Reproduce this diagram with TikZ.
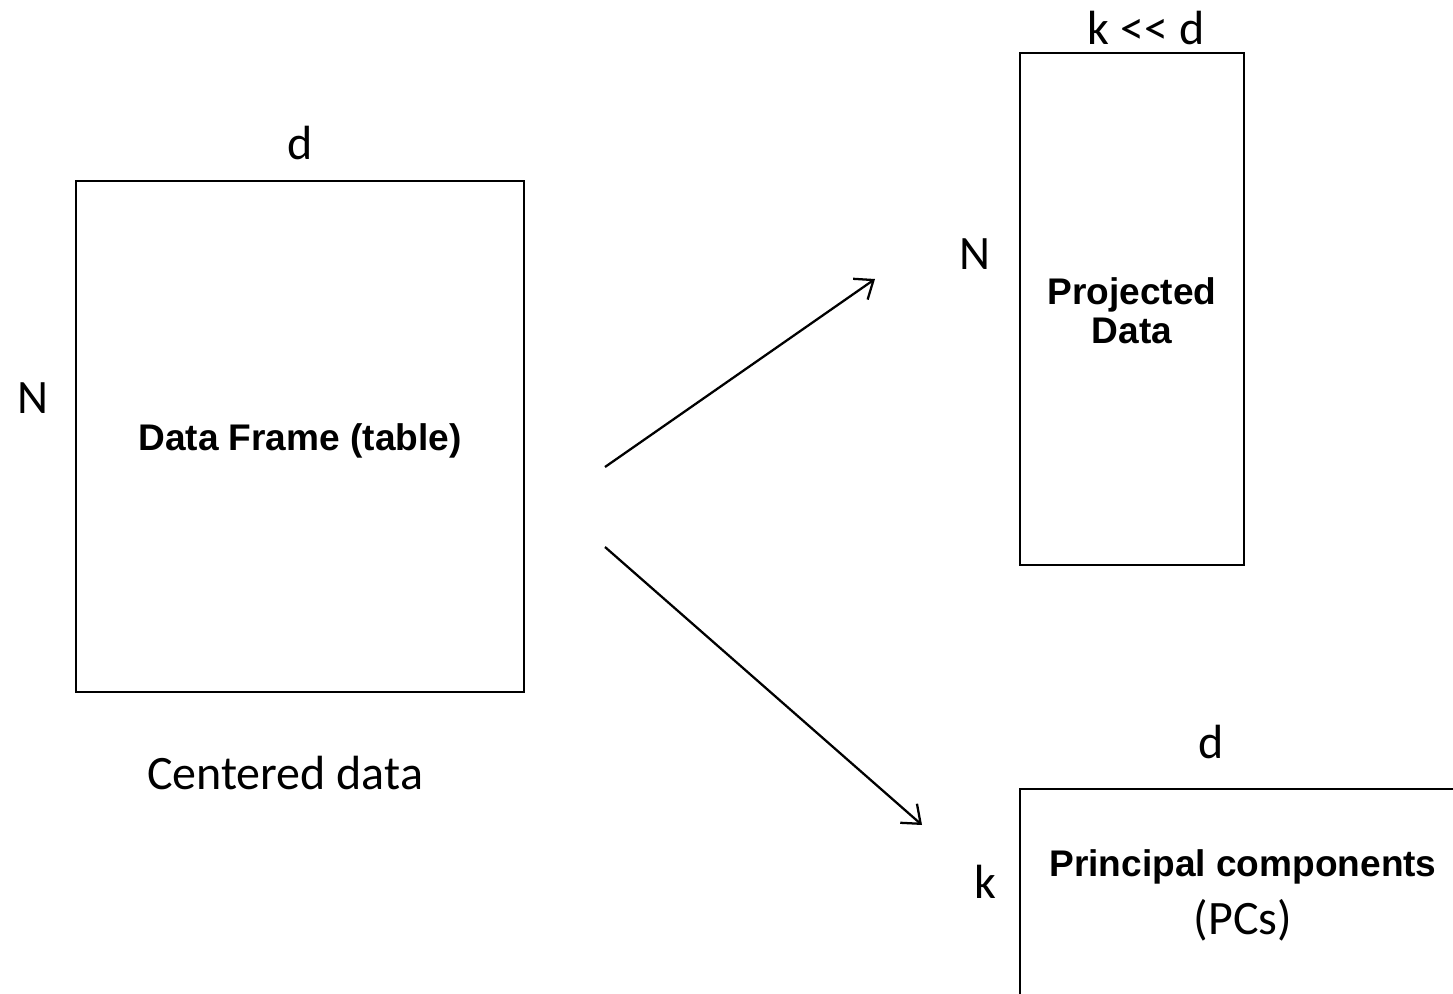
\documentclass[tikz,border=0pt]{standalone}
\usepackage{fontspec}
\setmainfont{Carlito}
\newfontfamily\labelfont{Liberation Sans}
\usetikzlibrary{arrows.meta}
\tikzset{
  matrixbox/.style={draw=black, line width=1.9pt},
  dimlabel/.style={font=\fontsize{36}{43}\selectfont, inner sep=0pt},
  boxlabel/.style={font=\labelfont\bfseries\fontsize{27.8}{30}\selectfont, inner sep=0pt, align=center},
  flow/.style={line width=1.7pt, -{Straight Barb[length=12pt, width=19pt, line width=1.7pt]}}
}
\begin{document}
\begin{tikzpicture}[x=0.75pt, y=-0.75pt]
  \clip (0,0) rectangle (1453,993);
  \useasboundingbox (0,0) rectangle (1453,993);

  % centred data matrix
  \draw[matrixbox] (76,181) rectangle (524,692);
  \node[boxlabel] (df) at (300,441) {Data Frame (table)};
  \node[dimlabel] (dfd) at (300,143) {d};
  \node[dimlabel] (dfn) at (33,398) {N};
  \node[dimlabel] (dfcap) at (285,773) {Centered data};

  % projected data matrix
  \draw[matrixbox] (1020,53) rectangle (1244,565);
  \node[boxlabel] (pd) at (1132,311) {Projected\\[-0.5pt]Data};
  \node[dimlabel] (pdk) at (1146,28) {k {<}{<} d};
  \node[dimlabel] (pdn) at (975,254) {N};

  % principal components matrix
  \draw[matrixbox] (1020,789) rectangle (1500,1050);
  \node[boxlabel] (pc) at (1243,867) {Principal components};
  \node[dimlabel] (pcs) at (1243,920) {(PCs)};
  \node[dimlabel] (pcd) at (1211,742) {d};
  \node[dimlabel] (pck) at (985,882) {k};

  % arrows
  \coordinate (s1) at (605,467);
  \coordinate (e1) at (875,279);
  \coordinate (s2) at (605,547);
  \coordinate (e2) at (922,825);
  \draw[flow] (s1) -- (e1);
  \draw[flow] (s2) -- (e2);
\end{tikzpicture}
\end{document}
